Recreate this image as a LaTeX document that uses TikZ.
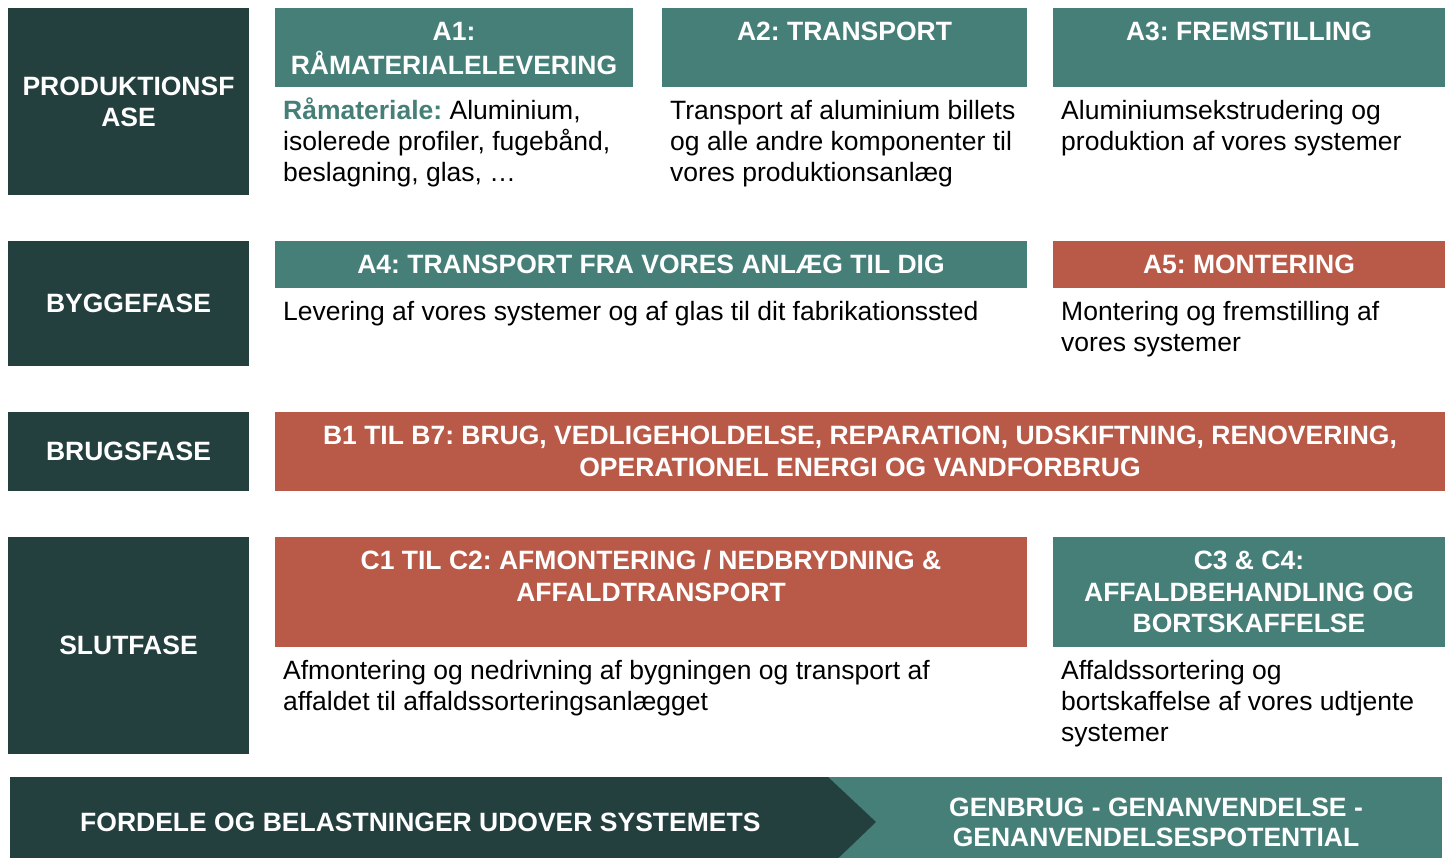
\documentclass[tikz,border=0pt]{standalone}
\usepackage{fontspec}
\setmainfont{Liberation Sans}
\definecolor{darkc}{HTML}{233F3E}
\definecolor{tealc}{HTML}{457F78}
\definecolor{redc}{HTML}{B95A48}
\frenchspacing
\begin{document}
\frenchspacing
\begin{tikzpicture}[x=1pt,y=-1pt,
  blk/.style={inner sep=0pt, outer sep=0pt, anchor=north west},
  phasebox/.style={blk, fill=darkc},
  hdteal/.style={blk, fill=tealc},
  hdred/.style={blk, fill=redc},
  phasetext/.style={inner sep=0pt, text=white, align=center, font=\fontsize{26.5}{31}\selectfont\bfseries\frenchspacing},
  htext/.style={inner sep=0pt, anchor=north, text=white, align=center, font=\fontsize{26.5}{31.5}\selectfont\bfseries\frenchspacing},
  btext/.style={inner sep=0pt, anchor=north west, text=black, align=left, font=\fontsize{26.5}{31}\selectfont\frenchspacing},
  bantext/.style={inner sep=0pt, text=white, align=center, font=\fontsize{26.5}{30}\selectfont\bfseries\frenchspacing}
]
\useasboundingbox (0,0) rectangle (1449,858);
\clip (0,0) rectangle (1449,858);

% phase boxes
\node[phasebox, minimum width=241pt, minimum height=187pt] (p1) at (8,8) {};
\node[phasebox, minimum width=241pt, minimum height=125pt] (p2) at (8,241) {};
\node[phasebox, minimum width=241pt, minimum height=79pt] (p3) at (8,412) {};
\node[phasebox, minimum width=241pt, minimum height=217pt] (p4) at (8,537) {};
\node[phasetext] (t1) at (p1.center) {PRODUKTIONSF\\ASE};
\node[phasetext] (t2) at (p2.center) {BYGGEFASE};
\node[phasetext] (t3) at (p3.center) {BRUGSFASE};
\node[phasetext] (t4) at (p4.center) {SLUTFASE};

% header boxes
\node[hdteal, minimum width=358pt, minimum height=79pt] (a1) at (275,8) {};
\node[hdteal, minimum width=365pt, minimum height=79pt] (a2) at (662,8) {};
\node[hdteal, minimum width=392pt, minimum height=79pt] (a3) at (1053,8) {};
\node[hdteal, minimum width=752pt, minimum height=47pt] (a4) at (275,241) {};
\node[hdred, minimum width=392pt, minimum height=47pt] (a5) at (1053,241) {};
\node[hdred, minimum width=1170pt, minimum height=79pt] (b) at (275,412) {};
\node[hdred, minimum width=752pt, minimum height=110pt] (c1) at (275,537) {};
\node[hdteal, minimum width=392pt, minimum height=110pt] (c3) at (1053,537) {};

\node[htext] (a1h) at ([yshift=-10.4pt]a1.north) {\strut A1:\\RÅMATERIALELEVERING};
\node[htext] (a2h) at ([yshift=-10.4pt]a2.north) {\strut A2: TRANSPORT};
\node[htext] (a3h) at ([yshift=-10.4pt]a3.north) {\strut A3: FREMSTILLING};
\node[htext] (a4h) at ([yshift=-10.4pt]a4.north) {\strut A4: TRANSPORT FRA VORES ANLÆG TIL DIG};
\node[htext] (a5h) at ([yshift=-10.4pt]a5.north) {\strut A5: MONTERING};
\node[htext] (bh) at ([yshift=-10.4pt]b.north) {\strut B1 TIL B7: BRUG, VEDLIGEHOLDELSE, REPARATION, UDSKIFTNING, RENOVERING,\\OPERATIONEL ENERGI OG VANDFORBRUG};
\node[htext] (c1h) at ([yshift=-10.4pt]c1.north) {\strut C1 TIL C2: AFMONTERING / NEDBRYDNING \&\\AFFALDTRANSPORT};
\node[htext] (c3h) at ([yshift=-10.4pt]c3.north) {\strut C3 \& C4:\\AFFALDBEHANDLING OG\\BORTSKAFFELSE};

% body texts
\node[btext] (a1b) at ([xshift=8pt,yshift=-10.6pt]a1.south west) {\strut\textcolor{tealc}{\bfseries Råmateriale:} Aluminium,\\isolerede profiler, fugebånd,\\beslagning, glas, …};
\node[btext] (a2b) at ([xshift=8pt,yshift=-10.6pt]a2.south west) {\strut Transport af aluminium billets\\og alle andre komponenter til\\vores produktionsanlæg};
\node[btext] (a3b) at ([xshift=8pt,yshift=-10.6pt]a3.south west) {\strut Aluminiumsekstrudering og\\produktion af vores systemer};
\node[btext] (a4b) at ([xshift=8pt,yshift=-10.6pt]a4.south west) {\strut Levering af vores systemer og af glas til dit fabrikationssted};
\node[btext] (a5b) at ([xshift=8pt,yshift=-10.6pt]a5.south west) {\strut Montering og fremstilling af\\vores systemer};
\node[btext] (c1b) at ([xshift=8pt,yshift=-10.6pt]c1.south west) {\strut Afmontering og nedrivning af bygningen og transport af\\affaldet til affaldssorteringsanlægget};
\node[btext] (c3b) at ([xshift=8pt,yshift=-10.6pt]c3.south west) {\strut Affaldssortering og\\bortskaffelse af vores udtjente\\systemer};

% bottom banner
\fill[tealc] (828,777) rectangle (1442,870);
\fill[darkc] (10,777) -- (828,777) -- (876,822) -- (828,868) -- (10,868) -- cycle;
\node[bantext, anchor=west] (f1) at (80,822) {FORDELE OG BELASTNINGER UDOVER SYSTEMETS};
\node[bantext] (f2) at (1156,822) {GENBRUG - GENANVENDELSE -\\GENANVENDELSESPOTENTIAL};
\end{tikzpicture}
\end{document}
